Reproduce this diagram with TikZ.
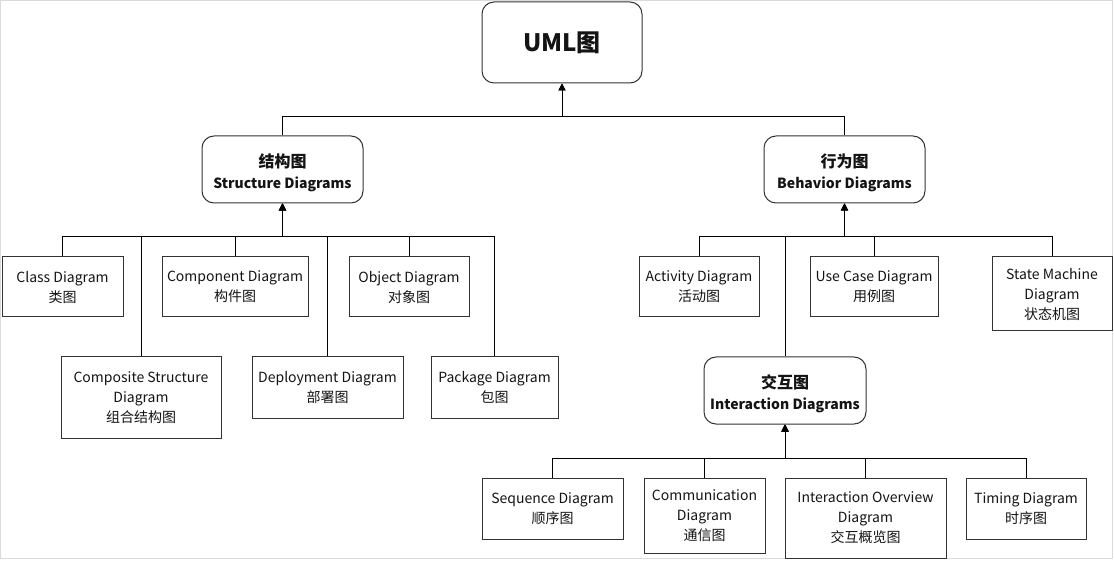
\documentclass[tikz,border=0pt]{standalone}
\usepackage{fontspec}
\setmainfont{Noto Sans CJK SC}
\usetikzlibrary{arrows.meta}
\newlength{\du}
\setlength{\du}{1pt}
\definecolor{dialinecolor}{rgb}{0.200000, 0.200000, 0.200000}
\definecolor{diatextcolor}{rgb}{0.080000, 0.080000, 0.080000}
\definecolor{diaframecolor}{rgb}{0.860000, 0.860000, 0.860000}
\newcommand{\diatitle}[2]{{\fontsize{16\du}{22\du}\selectfont\rule{0pt}{20\du}#1}\\#2}

\begin{document}
\begin{tikzpicture}[x=\du,y=-\du,
  diabox/.style={draw=dialinecolor,line width=1\du,fill=white,inner sep=0pt,align=center,
    text=diatextcolor,font=\fontsize{14\du}{20\du}\selectfont,minimum height=60\du},
  diagroup/.style={diabox,rounded corners=12\du,minimum width=161\du,minimum height=67\du,
    font=\bfseries\fontsize{14\du}{21\du}\selectfont},
  diaarrow/.style={draw=black,line width=1\du,-{Triangle[width=7pt,length=7pt]}}]
\useasboundingbox (0,0) rectangle (1114,561);
\draw[diaframecolor,line width=1\du] (0.5,0.5) rectangle (1112.5,558.5);
% top level
\node[diagroup,minimum width=160\du,minimum height=81\du,font=\bfseries\fontsize{24\du}{28\du}\selectfont] (uml) at (562,42.5) {UML图};
\node[diagroup] (struct) at (282.5,169.5) {\diatitle{结构图}{Structure Diagrams}};
\node[diagroup] (behav) at (844.5,169.5) {\diatitle{行为图}{Behavior Diagrams}};
% structure diagrams
\node[diabox,minimum width=121\du] (class) at (62.5,287) {Class Diagram\\类图};
\node[diabox,minimum width=146\du] (component) at (235,287) {Component Diagram\\构件图};
\node[diabox,minimum width=120\du] (object) at (409,287) {Object Diagram\\对象图};
\node[diabox,minimum width=160\du,minimum height=81\du] (composite) at (141,397.5) {Composite Structure\\Diagram\\组合结构图};
\node[diabox,minimum width=151\du,minimum height=61\du] (deploy) at (327.5,387.5) {Deployment Diagram\\部署图};
\node[diabox,minimum width=127\du,minimum height=61\du] (package) at (494.5,387.5) {Package Diagram\\包图};
% behavior diagrams
\node[diabox,minimum width=120\du] (activity) at (699,287) {Activity Diagram\\活动图};
\node[diabox,minimum width=128\du] (usecase) at (874,287) {Use Case Diagram\\用例图};
\node[diabox,minimum width=120\du,minimum height=74\du] (statemach) at (1052,294) {State Machine\\Diagram\\状态机图};
\node[diagroup,minimum width=162\du] (interact) at (785,390.5) {\diatitle{交互图}{Interaction Diagrams}};
% interaction diagrams
\node[diabox,minimum width=141\du,minimum height=61\du] (sequence) at (552.5,508.5) {Sequence Diagram\\顺序图};
\node[diabox,minimum width=121\du,minimum height=75\du] (communic) at (704.5,515.5) {Communication\\Diagram\\通信图};
\node[diabox,minimum width=161\du,minimum height=80\du] (overview) at (865.5,518) {Interaction Overview\\Diagram\\交互概览图};
\node[diabox,minimum width=120\du,minimum height=61\du] (timing) at (1026,508.5) {Timing Diagram\\时序图};
% bus points
\coordinate (umlbus) at (562,117);
\coordinate (structbus) at (282.5,237);
\coordinate (behavbus) at (844.5,237);
\coordinate (interbus) at (785,458);
% connectors
\foreach \n in {struct,behav}
  \draw[diaarrow] (\n.north) |- (umlbus) -- (uml.south);
\foreach \n in {class,composite,component,deploy,object,package}
  \draw[diaarrow] (\n.north) |- (structbus) -- (struct.south);
\foreach \n in {activity,interact,usecase,statemach}
  \draw[diaarrow] (\n.north) |- (behavbus) -- (behav.south);
\foreach \n in {sequence,communic,overview,timing}
  \draw[diaarrow] (\n.north) |- (interbus) -- (interact.south);
\end{tikzpicture}
\end{document}
